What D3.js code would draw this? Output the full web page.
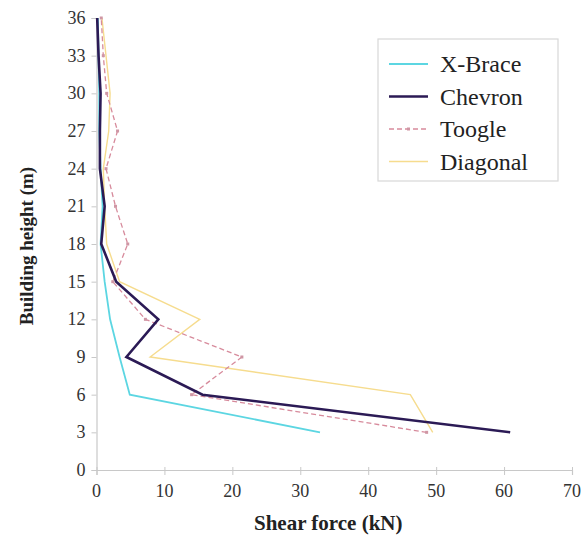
<!DOCTYPE html>
<html><head><meta charset="utf-8">
<script src="https://cdn.jsdelivr.net/npm/d3@7"></script></head>
<body style="margin:0">
<svg id="chart" width="585" height="542"></svg>
<script>
// Storey heights (m) and storey shear force (kN) for each bracing system
const heights  = [3, 6, 9, 12, 15, 18, 21, 24, 27, 30, 33, 36];
const xBrace   = [32.9, 4.9, 3.4, 2.0, 1.2, 0.6, 0.9, 0.6, 0.4, 0.4, 0.3, 0.2];
const chevron  = [60.9, 15.6, 4.4, 9.1, 2.9, 0.7, 1.2, 0.5, 0.5, 0.6, 0.3, 0.1];
const toogle   = [48.6, 14.0, 21.4, 7.2, 2.4, 4.6, 2.8, 1.4, 3.1, 1.5, 1.0, 0.7];
const diagonal = [49.5, 46.2, 7.9, 15.2, 3.4, 1.5, 1.2, 1.0, 1.8, 2.0, 1.4, 0.8];

const xTicks = [0, 10, 20, 30, 40, 50, 60, 70];
const yTicks = [0, 3, 6, 9, 12, 15, 18, 21, 24, 27, 30, 33, 36];

const seriesNames = ["X-Brace", "Chevron", "Toogle", "Diagonal"];
const seriesData  = [xBrace, chevron, toogle, diagonal];

const styles = {
  "X-Brace":  { color: "#5cd6e2", width: 1.8, dash: null },
  "Chevron":  { color: "#2b1a55", width: 2.6, dash: null },
  "Toogle":   { color: "#d78b9c", width: 1.3, dash: "5,3" },
  "Diagonal": { color: "#f6dc8e", width: 1.4, dash: null }
};

const FONT = "Liberation Serif";
const svg = d3.select("#chart");

const x = d3.scaleLinear().domain([0, 70]).range([96.5, 572]);
const y = d3.scaleLinear().domain([0, 36]).range([470, 18]);

// grey axis lines and ticks, drawn with d3 axes
const xAxis = svg.append("g")
  .attr("transform", `translate(0,${y(0)})`)
  .call(d3.axisBottom(x).tickValues(xTicks).tickSize(5).tickFormat(""));
const yAxis = svg.append("g")
  .attr("transform", `translate(${x(0)},0)`)
  .call(d3.axisLeft(y).tickValues(yTicks).tickSize(5).tickFormat(""));
[xAxis, yAxis].forEach(g => {
  g.select(".domain").attr("stroke", "#c8c8c8").attr("stroke-width", 1.2);
  g.selectAll(".tick line").attr("stroke", "#c8c8c8").attr("stroke-width", 1);
});
xAxis.selectAll(".tick line").attr("y1", -3).attr("y2", 5);

// tick labels as plain svg text
svg.append("g").selectAll("text").data(xTicks).join("text")
  .attr("x", d => x(d)).attr("y", y(0) + 27)
  .attr("text-anchor", "middle")
  .style("font-family", FONT)
  .attr("font-size", 18).attr("fill", "#333")
  .text(d => d);

svg.append("g").selectAll("text").data(yTicks).join("text")
  .attr("x", x(0) - 11).attr("y", d => y(d) + 6)
  .attr("text-anchor", "end")
  .style("font-family", FONT)
  .attr("font-size", 18).attr("fill", "#333")
  .text(d => d);

// axis titles
svg.append("text")
  .attr("x", x(35) - 6).attr("y", 530)
  .attr("text-anchor", "middle")
  .style("font-family", FONT).attr("font-weight", "bold")
  .attr("font-size", 21).attr("fill", "#222")
  .text("Shear force (kN)");

svg.append("text")
  .attr("transform", `translate(33,${y(18) + 2}) rotate(-90)`)
  .attr("text-anchor", "middle")
  .style("font-family", FONT).attr("font-weight", "bold")
  .attr("font-size", 19).attr("fill", "#222")
  .text("Building height (m)");

// series lines
const line = d3.line()
  .x(d => x(d.v))
  .y(d => y(d.h));

const order = ["Diagonal", "Toogle", "X-Brace", "Chevron"];
order.forEach(name => {
  const vals = seriesData[seriesNames.indexOf(name)];
  const pts = heights.map((h, i) => ({ h, v: vals[i] }));
  const st = styles[name];
  svg.append("path")
    .datum(pts)
    .attr("fill", "none")
    .attr("stroke", st.color)
    .attr("stroke-width", st.width)
    .attr("stroke-linejoin", "miter")
    .attr("stroke-dasharray", st.dash)
    .attr("d", line);
  if (name === "Toogle") {
    // small markers along the dashed line
    svg.append("g").selectAll("rect")
      .data(pts)
      .join("rect")
      .attr("x", d => x(d.v) - 1.5)
      .attr("y", d => y(d.h) - 1.5)
      .attr("width", 3).attr("height", 3)
      .attr("fill", "#cf96a4");
  }
});

// legend
const legend = svg.append("g");
legend.append("rect")
  .attr("x", 378).attr("y", 39)
  .attr("width", 180).attr("height", 142)
  .attr("fill", "#fff")
  .attr("stroke", "#d8d8d8").attr("stroke-width", 1.2);

seriesNames.forEach((name, i) => {
  const cy = 64 + i * 32.5;
  const st = styles[name];
  legend.append("line")
    .attr("x1", 389).attr("x2", 428)
    .attr("y1", cy).attr("y2", cy)
    .attr("stroke", st.color)
    .attr("stroke-width", st.width)
    .attr("stroke-dasharray", st.dash);
  if (name === "Toogle") {
    legend.append("rect")
      .attr("x", 407).attr("y", cy - 1.5)
      .attr("width", 3).attr("height", 3)
      .attr("fill", "#cf96a4");
  }
  legend.append("text")
    .attr("x", 440).attr("y", cy + 8)
    .style("font-family", FONT)
    .attr("font-size", 24)
    .attr("fill", "#222")
    .text(name);
});
</script>
</body>
</html>
